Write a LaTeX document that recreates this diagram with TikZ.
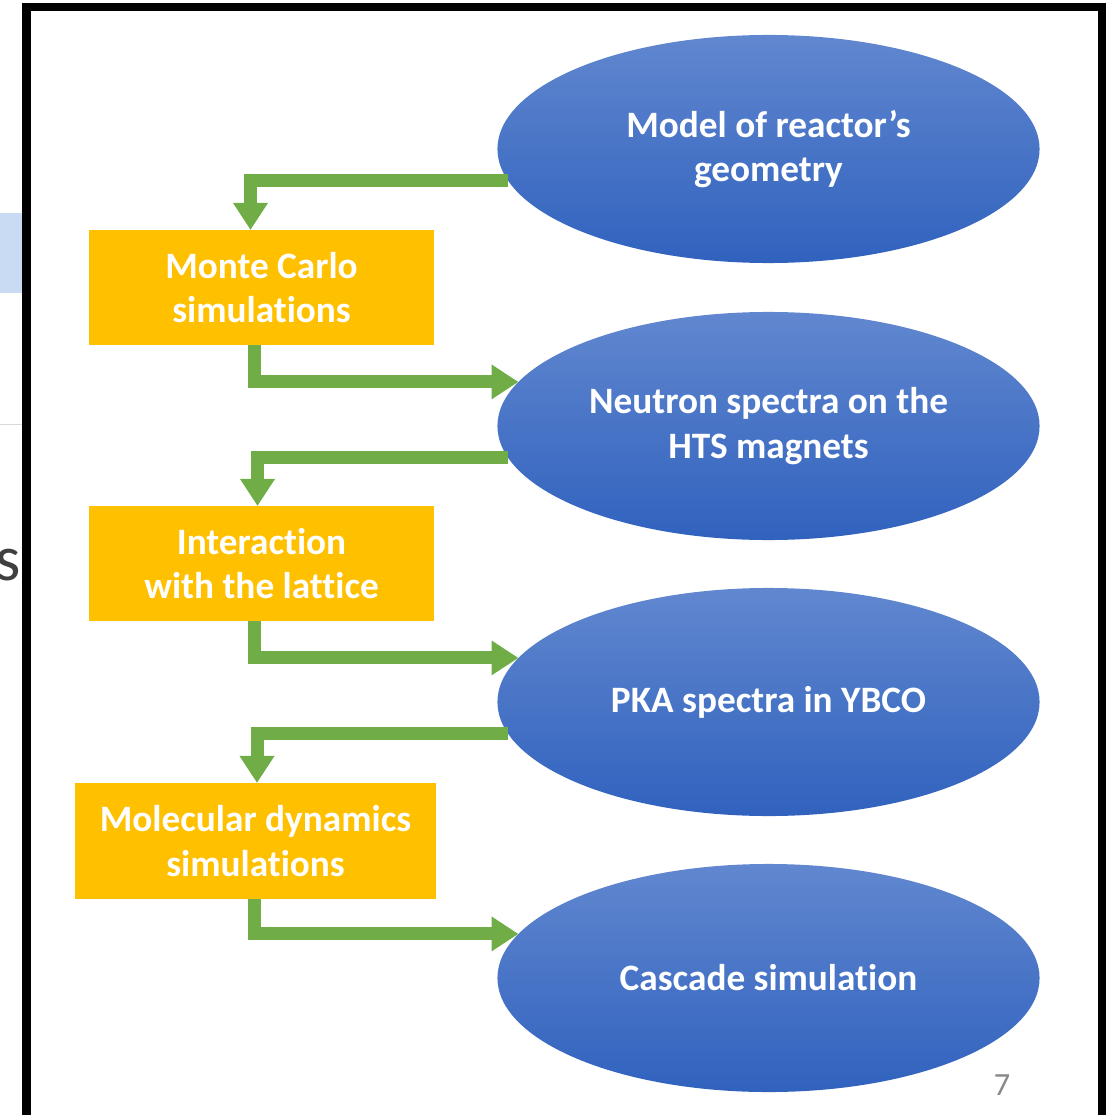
\documentclass[tikz,border=0pt]{standalone}
\usepackage{fontspec}
\setmainfont{Carlito}[Ligatures=NoCommon]
\usetikzlibrary{shapes.geometric,arrows.meta,calc}

\definecolor{boxorange}{RGB}{255,192,0}
\definecolor{flowgreen}{RGB}{112,173,71}
\definecolor{elltop}{RGB}{97,135,207}
\definecolor{ellbottom}{RGB}{48,98,190}
\definecolor{sidetab}{RGB}{201,219,242}
\definecolor{pagegray}{RGB}{137,137,137}

\begin{document}
\begin{tikzpicture}[
    x=0.025cm, y=-0.025cm,
    every node/.style={text=white, font=\fontsize{26.5pt}{31.5pt}\selectfont\bfseries, align=center},
    stage/.style={ellipse, top color=elltop, bottom color=ellbottom, draw=none,
        minimum width=13.55cm, minimum height=5.7cm, inner sep=0pt, outer sep=0pt}, % Blue ellipse
    task/.style={rectangle, fill=boxorange, minimum width=8.6cm, minimum height=2.875cm,
        inner sep=0pt, outer sep=0pt}, % Orange box
    flow/.style={draw=flowgreen, line width=0.325cm,
        -{Triangle[length=0.675cm,width=0.825cm]}} % Green connector
]
    \useasboundingbox (0,0) rectangle (1110,1115);

    % --- SLIDE REMAINS (left edge) ---
    \fill[sidetab] (0,213) rectangle (22,293);
    \draw[black!15, line width=0.025cm] (0,424) -- (22,424);
    \node[text=black!75, font=\fontsize{46pt}{50pt}\selectfont, anchor=base east, inner sep=0pt] (cut) at (21,580) {s};

    % --- FRAME ---
    \draw[black, line width=0.2cm] (26.5,1140) -- (26.5,7) -- (1101.5,7) -- (1101.5,1140);

    % --- ELLIPSES (results) ---
    \node[stage] (geom) at (768.5,149) {Model of reactor’s\\geometry};
    \node[stage] (neutron) at (768.5,426) {Neutron spectra on the\\HTS magnets};
    \node[stage] (pka) at (768.5,702) {PKA spectra in YBCO};
    \node[stage] (cascade) at (768.5,978) {Cascade simulation};

    % --- BOXES (methods) ---
    \node[task] (mc) at (261.5,287.5) {Monte Carlo\\simulations};
    \node[task] (lattice) at (261.5,563.5) {Interaction\\with the lattice};
    \node[task, minimum width=9.025cm, minimum height=2.9cm] (md) at (255.5,841) {Molecular dynamics\\simulations};

    % --- CONNECTORS ---
    \draw[flow] (geom.187) -| ([xshift=-0.275cm]mc.north);
    \draw[flow] ([xshift=-0.175cm]mc.south) |- (neutron.170);
    \draw[flow] (neutron.187) -| ([xshift=-0.1cm]lattice.north);
    \draw[flow] ([xshift=-0.175cm]lattice.south) |- (pka.170);
    \draw[flow] (pka.187) -| ([xshift=0.0375cm]md.north);
    \draw[flow] ([xshift=-0.025cm]md.south) |- (cascade.170);

    % Page number
    \node[text=pagegray, font=\fontsize{23pt}{27pt}\selectfont] (page) at (1002,1085) {7};

\end{tikzpicture}
\end{document}
